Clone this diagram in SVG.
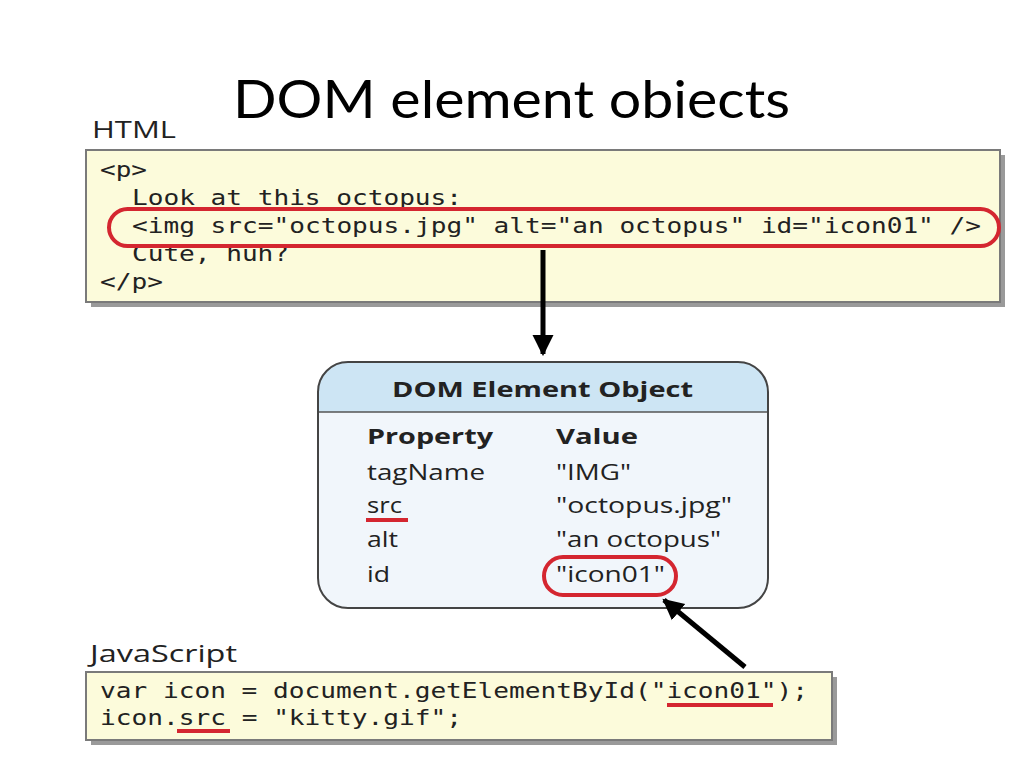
<svg xmlns="http://www.w3.org/2000/svg" width="1024" height="768" viewBox="0 0 1024 768">
<style>
.title{font-family:Lato,"Open Sans",sans-serif;font-size:53px;fill:#000}
.lbl{font-family:"Open Sans","Liberation Sans",sans-serif;font-size:23px;fill:#222}
.code{font-family:"DejaVu Sans Mono","Liberation Mono",monospace;font-size:21px;fill:#222}
.dom{font-family:"Open Sans","Liberation Sans",sans-serif;font-size:22px;fill:#222}
.b{font-weight:bold}
.red{fill:none;stroke:#d42630;stroke-width:4}
.box{fill:#fcfbdb;stroke:#7a7a7a;stroke-width:2}
.shadow{fill:#9a9a9a}
.conn{stroke:#000;stroke-width:5;fill:none}
</style>
<defs>
<marker id="ah" viewBox="0 0 10 10" refX="9" refY="5" markerWidth="4.2" markerHeight="4.6" orient="auto" markerUnits="strokeWidth">
<path d="M0,0 L10,5 L0,10 z" fill="#000"/>
</marker>
</defs>
<rect width="1024" height="768" fill="#fff"/>
<text class="title" x="233" y="118" textLength="557" lengthAdjust="spacingAndGlyphs">DOM element obiects</text>

<g id="html">
<text class="lbl" x="92" y="138" textLength="84" lengthAdjust="spacingAndGlyphs">HTML</text>
<rect class="shadow" x="91" y="155" width="914" height="152"/>
<rect class="box" x="86" y="150" width="914" height="152"/>
<text class="code" x="100" y="177" textLength="47" lengthAdjust="spacingAndGlyphs">&lt;p&gt;</text>
<text class="code" x="132" y="205" textLength="330" lengthAdjust="spacingAndGlyphs">Look at this octopus:</text>
<text class="code" x="132" y="233" textLength="849" lengthAdjust="spacingAndGlyphs">&lt;img src="octopus.jpg" alt="an octopus" id="icon01" /&gt;</text>
<text class="code" x="132" y="261" textLength="157" lengthAdjust="spacingAndGlyphs">Cute, huh?</text>
<text class="code" x="100" y="289" textLength="63" lengthAdjust="spacingAndGlyphs">&lt;/p&gt;</text>
<rect class="red" x="109" y="209" width="890" height="37" rx="18.5"/>
</g>

<g id="dom">
<path d="M348,362 H738 A30,30 0 0 1 768,392 V578 A30,30 0 0 1 738,608 H348 A30,30 0 0 1 318,578 V392 A30,30 0 0 1 348,362 Z" fill="#f1f6fb"/>
<path d="M348,362 H738 A30,30 0 0 1 768,392 V412 H318 V392 A30,30 0 0 1 348,362 Z" fill="#cde5f4"/>
<line x1="318" y1="412" x2="768" y2="412" stroke="#555" stroke-width="1.5"/>
<path d="M348,362 H738 A30,30 0 0 1 768,392 V578 A30,30 0 0 1 738,608 H348 A30,30 0 0 1 318,578 V392 A30,30 0 0 1 348,362 Z" fill="none" stroke="#444" stroke-width="2"/>
<text class="dom b" x="392" y="397" textLength="301" lengthAdjust="spacingAndGlyphs">DOM Element Object</text>
<text class="dom b" x="367" y="444" textLength="126" lengthAdjust="spacingAndGlyphs">Property</text>
<text class="dom b" x="556" y="444" textLength="82" lengthAdjust="spacingAndGlyphs">Value</text>
<text class="dom" x="367" y="480" textLength="118" lengthAdjust="spacingAndGlyphs">tagName</text>
<text class="dom" x="556" y="480" textLength="75" lengthAdjust="spacingAndGlyphs">"IMG"</text>
<text class="dom" x="367" y="513" textLength="35" lengthAdjust="spacingAndGlyphs">src</text>
<text class="dom" x="556" y="513" textLength="176" lengthAdjust="spacingAndGlyphs">"octopus.jpg"</text>
<text class="dom" x="367" y="547" textLength="31" lengthAdjust="spacingAndGlyphs">alt</text>
<text class="dom" x="556" y="547" textLength="165" lengthAdjust="spacingAndGlyphs">"an octopus"</text>
<text class="dom" x="367" y="582" textLength="23" lengthAdjust="spacingAndGlyphs">id</text>
<text class="dom" x="556" y="582" textLength="109" lengthAdjust="spacingAndGlyphs">"icon01"</text>
<line class="red" x1="366" y1="520" x2="408" y2="520"/>
<rect class="red" x="544" y="557" width="132" height="38" rx="19"/>
</g>

<g id="js">
<text class="lbl" x="90" y="662" textLength="147" lengthAdjust="spacingAndGlyphs">JavaScript</text>
<rect class="shadow" x="91" y="677" width="746" height="68"/>
<rect class="box" x="86" y="672" width="746" height="68"/>
<text class="code" x="100" y="698" textLength="708" lengthAdjust="spacingAndGlyphs">var icon = document.getElementById("icon01");</text>
<text class="code" x="100" y="725" textLength="362" lengthAdjust="spacingAndGlyphs">icon.src = "kitty.gif";</text>
<line class="red" x1="667" y1="705" x2="773" y2="705"/>
<line class="red" x1="177" y1="731" x2="230" y2="731"/>
</g>

<g id="connectors">
<line class="conn" x1="543" y1="250" x2="543" y2="354" marker-end="url(#ah)"/>
<line class="conn" x1="745" y1="667" x2="664" y2="600" marker-end="url(#ah)"/>
</g>
</svg>
